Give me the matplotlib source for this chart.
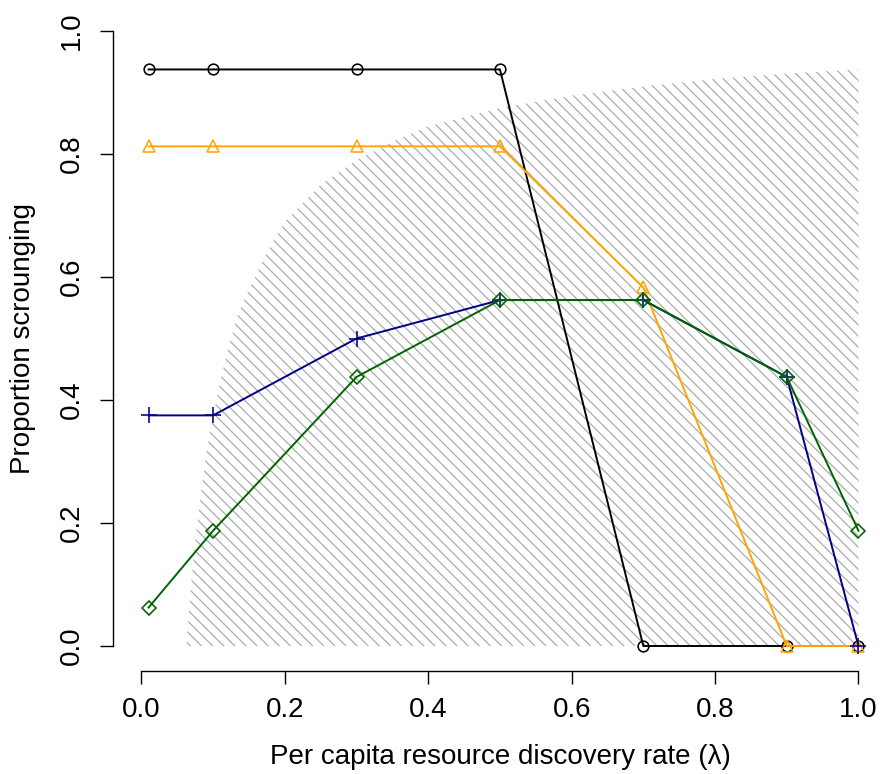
import numpy as np
import matplotlib
matplotlib.use('Agg')
import matplotlib.pyplot as plt

plt.rcParams['font.family'] = ['Liberation Sans', 'DejaVu Sans']
plt.rcParams['hatch.linewidth'] = 0.9

# discovery rates
lam = [0.01, 0.1, 0.3, 0.5, 0.7, 0.9, 1.0]

# proportion scrounging per scenario
black_y = [0.9375, 0.9375, 0.9375, 0.9375, 0.0, 0.0, 0.0]
orange_y = [0.8125, 0.8125, 0.8125, 0.8125, 0.583, 0.0, 0.0]
blue_y = [0.375, 0.375, 0.5, 0.5625, 0.5625, 0.4375, 0.0]
green_y = [0.0625, 0.1875, 0.4375, 0.5625, 0.5625, 0.4375, 0.1875]

# upper edge of the shaded region
edge_x = [0.0625, 0.066, 0.07, 0.075, 0.08, 0.09, 0.1, 0.11, 0.12, 0.135, 0.15, 0.175,
          0.2, 0.25, 0.3, 0.35, 0.4, 0.5, 0.6, 0.7, 0.8, 0.9, 1.0]
edge_y = [0.0, 0.05, 0.11, 0.17, 0.22, 0.31, 0.375, 0.43, 0.48, 0.54, 0.58, 0.64,
          0.69, 0.75, 0.79, 0.82, 0.845, 0.875, 0.895, 0.91, 0.922, 0.931, 0.9375]

fig = plt.figure(figsize=(8.8, 7.74), dpi=100)
ax = fig.add_axes([0.1281, 0.1336, 0.880, 0.8581])

ax.fill_between(edge_x, 0, edge_y, facecolor='none', edgecolor='#ababab',
                hatch='\\\\\\', linewidth=0)

mk = dict(markerfacecolor='none', markeredgewidth=1.15, linewidth=1.4)
ax.plot(lam, black_y, color='black', marker='o', markersize=7.7, **mk)
ax.plot(lam, orange_y, color='orange', marker='^', markersize=9.2, **mk)
ax.plot(lam, blue_y, color='#000088', marker='+', markersize=11, **mk)
ax.plot(lam, green_y, color='#006400', marker='D', markersize=7.5, **mk)

ax.set_xlim(-0.04, 1.04)
ax.set_ylim(-0.04, 1.04)
ticks = [0.0, 0.2, 0.4, 0.6, 0.8, 1.0]
ax.set_xticks(ticks)
ax.set_yticks(ticks)
ax.set_xticklabels([f'{t:.1f}' for t in ticks], fontsize=20)
ax.set_yticklabels([f'{t:.1f}' for t in ticks], fontsize=20, rotation=90, va='center')
ax.tick_params(length=9.4, width=1.0, direction='out')
ax.tick_params(axis='x', pad=9.5)
ax.tick_params(axis='y', pad=11)

for s in ['top', 'right']:
    ax.spines[s].set_visible(False)
ax.spines['left'].set_bounds(0, 1)
ax.spines['bottom'].set_bounds(0, 1)
ax.spines['left'].set_linewidth(1.0)
ax.spines['bottom'].set_linewidth(1.0)

fig.text(500 / 880, 1 - 757 / 774, 'Per capita resource discovery rate (λ)',
         ha='center', va='center', fontsize=20)
fig.text(23 / 880, 1 - 339 / 774, 'Proportion scrounging',
         ha='center', va='center', rotation=90, fontsize=20)

fig.savefig('out.png', dpi=100)
